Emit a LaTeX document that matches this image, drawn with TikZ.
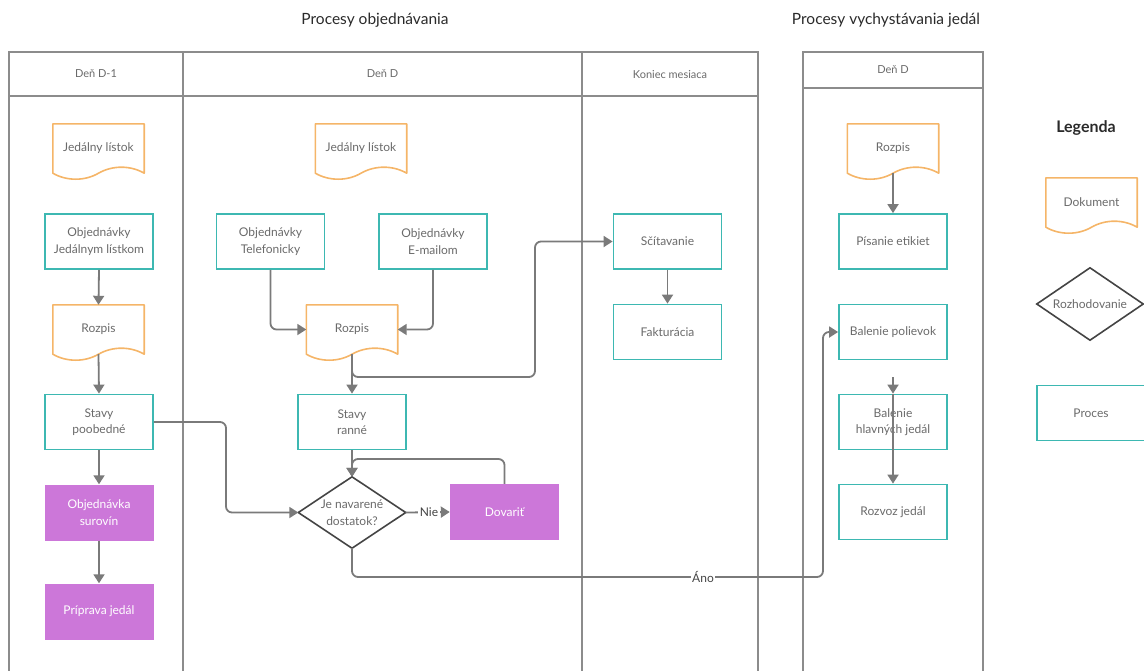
\documentclass[tikz,border=0pt]{standalone}
\usepackage{fontspec}
\setmainfont{Lato}
\usetikzlibrary{arrows.meta,calc}

\definecolor{procborder}{HTML}{3DB8B2}
\definecolor{docborder}{HTML}{F5B568}
\definecolor{purplefill}{HTML}{CC77D9}
\definecolor{poolgray}{HTML}{8C8C8C}
\definecolor{conngray}{HTML}{7A7A7A}
\definecolor{txtgray}{HTML}{6A6A6A}
\definecolor{titlegray}{HTML}{2A2A2A}
\definecolor{diagray}{HTML}{444444}

\tikzset{
  pool/.style={draw=poolgray, line width=1.7pt},
  title/.style={text=titlegray, font=\fontsize{15.5}{18}\selectfont},
  lanehead/.style={text=txtgray, font=\fontsize{11}{13}\selectfont},
  proc/.style={rectangle, draw=procborder, line width=1.8pt, minimum width=108pt,
    minimum height=55pt, align=center, text=txtgray, inner sep=0pt,
    font=\fontsize{12}{16.5}\selectfont},
  purp/.style={rectangle, fill=purplefill, draw=none, minimum width=109pt,
    minimum height=56pt, align=center, text=white, inner sep=0pt,
    font=\fontsize{12}{16.5}\selectfont},
  docnode/.style={rectangle, draw=none, minimum width=91pt, minimum height=49pt,
    align=center, text=txtgray, inner sep=0pt, font=\fontsize{12}{16.5}\selectfont},
  docline/.style={draw=docborder, line width=1.6pt, line join=round},
  decide/.style={rectangle, draw=none, minimum width=107pt, minimum height=71pt,
    align=center, text=txtgray, inner sep=0pt, font=\fontsize{12}{16.5}\selectfont},
  diamline/.style={draw=diagray, line width=1.6pt, line join=miter},
  conn/.style={draw=conngray, line width=1.8pt, rounded corners=6pt,
    -{Triangle[length=9pt,width=11pt]}},
  lbl/.style={fill=white, text=diagray, inner sep=1.5pt, font=\fontsize{12}{14}\selectfont},
}

% outline of a document shape: straight top and sides, wavy bottom
\newcommand\docoutline[1]{%
  \draw[docline] (#1.north west) -- (#1.north east) -- (#1.south east)
    .. controls ($(#1.south east)+(-13.65,-8)$) and ($(#1.south east)+(-31.85,-8)$) .. (#1.south)
    .. controls ($(#1.south)+(-13.65,8)$) and ($(#1.south)+(-31.85,8)$) .. (#1.south west)
    -- cycle;}
% outline of a decision diamond through the anchors of its node
\newcommand\diamoutline[1]{%
  \draw[diamline] (#1.west) -- (#1.north) -- (#1.east) -- (#1.south) -- cycle;}

\begin{document}
\begin{tikzpicture}[x=1pt,y=-1pt]
\useasboundingbox (0,0) rectangle (1144,670);
\clip (0,0) rectangle (1144,670);

% titles
\node[title] (t1) at (375,20) {Procesy objednávania};
\node[title] (t2) at (886,20) {Procesy vychystávania jedál};

% pool: ordering
\draw[pool] (9,52) rectangle (758,690);
\draw[pool] (9,96) -- (758,96);
\draw[pool] (183,52) -- (183,690);
\draw[pool] (582,52) -- (582,690);
\node[lanehead] (h1) at (96,74) {Deň D-1};
\node[lanehead] (h2) at (382.5,74) {Deň D};
\node[lanehead] (h3) at (670,75) {Koniec mesiaca};

% pool: preparing meals
\draw[pool] (803,52) rectangle (983,690);
\draw[pool] (803,88) -- (983,88);
\node[lanehead] (h4) at (893,70) {Deň D};

% lane: day D-1
\node[docnode] (jl1) at (98.5,148.5) {Jedálny lístok};
\node[proc] (obj1) at (99,241.5) {Objednávky\\Jedálnym lístkom};
\node[docnode] (roz1) at (98.5,329.5) {Rozpis};
\node[proc] (stp) at (99,422) {Stavy\\poobedné};
\node[purp] (obs) at (99,512.5) {Objednávka\\surovín};
\node[purp] (prj) at (99,611.5) {Príprava jedál};

% lane: day D
\node[docnode] (jl2) at (361,148.5) {Jedálny lístok};
\node[proc] (tel) at (270.5,241.5) {Objednávky\\Telefonicky};
\node[proc] (mail) at (433,241.5) {Objednávky\\E-mailom};
\node[docnode] (roz2) at (352,329.5) {Rozpis};
\node[proc] (str) at (352,422) {Stavy\\ranné};
\node[decide] (dia) at (352,512.5) {Je navarené\\dostatok?};
\node[purp] (dov) at (504.5,512) {Dovariť};

% lane: end of month
\node[proc] (sum) at (667.5,241.5) {Sčítavanie};
\node[proc] (fak) at (667.5,332) {Fakturácia};

% pool 2 lane
\node[docnode] (roz3) at (893,148.5) {Rozpis};
\node[proc] (pis) at (893,241.5) {Písanie etikiet};
\node[proc] (bpo) at (893,332) {Balenie polievok};
\node[proc] (bhj) at (893,422) {Balenie\\hlavných jedál};
\node[proc] (rzv) at (893,512) {Rozvoz jedál};

% legend
\node[font=\bfseries\fontsize{16}{18}\selectfont, text=titlegray] (leg) at (1086,128) {Legenda};
\node[docnode] (ldoc) at (1091.5,202.5) {Dokument};
\node[decide, minimum width=106pt, minimum height=72pt] (ldia) at (1090,304) {Rozhodovanie};
\node[proc] (lproc) at (1091,413) {Proces};

% document and diamond outlines
\foreach \d in {jl1,roz1,jl2,roz2,roz3,ldoc}{\docoutline{\d}}
\diamoutline{dia}
\diamoutline{ldia}

% helper points for routed connectors
\coordinate (spturn) at (226,422);
\coordinate (sumturn) at (535,377);
\coordinate (loopturn) at (352,459);
\coordinate (anoturn) at (823,577);
\coordinate (bhjin) at (893,377);

% connectors: day D-1
\draw[conn] (obj1.south) -- (roz1.north);
\draw[conn] (roz1.south) -- (stp.north);
\draw[conn] (stp.south) -- (obs.north);
\draw[conn] (obs.south) -- (prj.north);
\draw[conn] (stp.east) -- (spturn) |- (dia.west);

% connectors: day D
\draw[conn] (tel.south) |- (roz2.west);
\draw[conn] (mail.south) |- (roz2.east);
\draw[conn] (roz2.south) -- (str.north);
\draw[conn] (roz2.south) |- (sumturn) |- (sum.west);
\draw[conn] (str.south) -- (dia.north);
\draw[conn] (dia.east) -- (dov.west);
\draw[conn] (dov.north) |- (loopturn) -- (dia.north);
\draw[conn] (dia.south) |- (anoturn) |- (bpo.west);

% connectors: end of month
\draw[conn] (sum.south) -- (fak.north);

% connectors: preparing meals
\draw[conn] (roz3.south) -- (pis.north);
\draw[conn] (bhjin) -- (bhj.north);
\draw[conn] (bhj.north) -- (rzv.north);

% branch labels
\node[lbl] (nie) at (429,512) {Nie};
\node[lbl] (ano) at (703,577) {Áno};
\end{tikzpicture}
\end{document}
